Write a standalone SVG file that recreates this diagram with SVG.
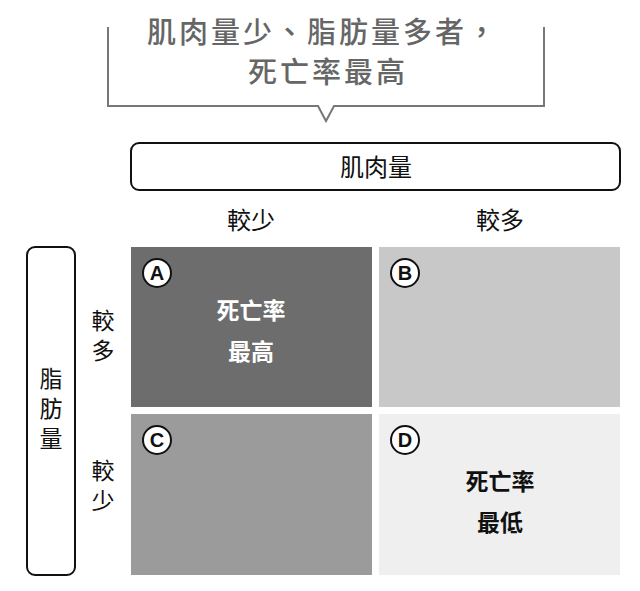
<svg xmlns="http://www.w3.org/2000/svg" width="640" height="591" viewBox="0 0 640 591">
<style>
text{font-family:"Noto Sans CJK TC","Noto Sans CJK SC",sans-serif;text-anchor:middle}
.lab{font-size:24px;fill:#111}
.v{font-size:23px;fill:#111}
.cap{font-size:29px;fill:#666;letter-spacing:3px;font-weight:500}
.big{font-size:23px;font-weight:bold}
.c circle{fill:#fff;stroke:#111;stroke-width:2}
.c text{font-family:"Liberation Sans",sans-serif;font-weight:bold;font-size:20px;fill:#111}
</style>
<g id="callout">
<path d="M108 27V106H318L326 121L334 106H544V27" fill="none" stroke="#777" stroke-width="2"/>
<text class="cap" x="323" y="43">肌肉量少、脂肪量多者，</text>
<text class="cap" x="328" y="83">死亡率最高</text>
</g>
<g id="muscle"><rect x="131" y="143" width="489" height="47" rx="8" fill="#fff" stroke="#111" stroke-width="2"/><text class="lab" x="376" y="176">肌肉量</text></g>
<g id="fat"><rect x="27" y="247" width="48" height="328" rx="8" fill="#fff" stroke="#111" stroke-width="2"/>
<text class="v" x="51" y="387">脂</text><text class="v" x="51" y="417">肪</text><text class="v" x="51" y="447">量</text></g>
<g id="labels">
<text class="lab" x="251" y="229">較少</text><text class="lab" x="500" y="229">較多</text>
<text class="v" x="103" y="329">較</text><text class="v" x="103" y="359">多</text>
<text class="v" x="103" y="479">較</text><text class="v" x="103" y="509">少</text>
</g>
<g id="A"><rect x="131" y="247" width="241" height="160" fill="#6d6d6d"/>
<g class="c"><circle cx="157" cy="273" r="14"/><text x="157" y="280">A</text></g>
<text class="big" x="251" y="319" fill="#fff">死亡率</text><text class="big" x="251" y="360" fill="#fff">最高</text></g>
<g id="B"><rect x="379" y="247" width="241" height="160" fill="#c8c8c8"/>
<g class="c"><circle cx="405" cy="273" r="14"/><text x="405" y="280">B</text></g></g>
<g id="C"><rect x="131" y="414" width="241" height="161" fill="#9b9b9b"/>
<g class="c"><circle cx="157" cy="440" r="14"/><text x="157" y="447">C</text></g></g>
<g id="D"><rect x="379" y="414" width="241" height="161" fill="#efefef"/>
<g class="c"><circle cx="405" cy="440" r="14"/><text x="405" y="447">D</text></g>
<text class="big" x="500" y="490" fill="#111">死亡率</text><text class="big" x="500" y="531" fill="#111">最低</text></g>
<g id="connectors"/>
</svg>
